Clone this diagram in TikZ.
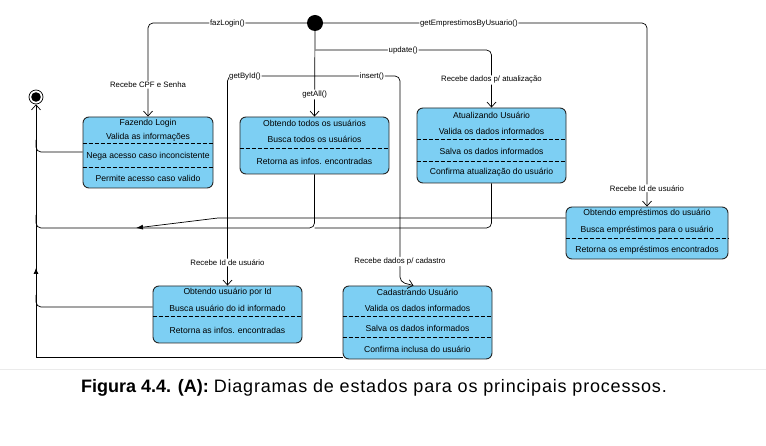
\documentclass[tikz,border=0pt]{standalone}
\usepackage{fontspec}
\setmainfont{Liberation Sans}
\usetikzlibrary{arrows.meta,calc}
\definecolor{stateblue}{RGB}{125,207,243}
\begin{document}
\begin{tikzpicture}[x=1pt,y=-1pt,
  state/.style={draw=black!85,rounded corners=6pt,fill=stateblue,line width=0.9pt,inner sep=0pt},
  row/.style={font=\fontsize{8.6}{10}\selectfont,inner sep=0pt},
  sep/.style={line width=0.7pt,dash pattern=on 4pt off 2pt},
  trans/.style={line width=0.7pt,rounded corners=5pt,-{Straight Barb[length=5pt,width=9pt]}},
  ret/.style={line width=0.7pt,rounded corners=5pt},
  lbl/.style={fill=white,font=\fontsize{7.8}{9}\selectfont,inner sep=1pt}]
\useasboundingbox (0,0) rectangle (766,446);
% pseudo states
\node[circle,fill=black,minimum size=16pt,inner sep=0pt] (init) at (315,23) {};
\node[circle,draw,line width=0.7pt,minimum size=14pt,inner sep=0pt] (final) at (36,97) {};
\fill (final.center) circle (4.8pt);
\coordinate (split) at (315,50);
\coordinate (fork) at (315,76);
% states
\node[state,minimum width=130pt,minimum height=71pt] (login) at (148,152.5) {};
\node[row] (login-t) at (148,123) {Fazendo Login};
\node[row] (login-1) at (148,137) {Valida as informações};
\node[row] (login-2) at (148,156) {Nega acesso caso inconcistente};
\node[row] (login-3) at (148,178.5) {Permite acesso caso valido};
\draw[sep] (login.west |- 0,143) -- (login.east |- 0,143);
\draw[sep] (login.west |- 0,167) -- (login.east |- 0,167);

\node[state,minimum width=149pt,minimum height=57pt] (todos) at (314.5,145.5) {};
\node[row] (todos-t) at (314.5,123) {Obtendo todos os usuários};
\node[row] (todos-1) at (314.5,139) {Busca todos os usuários};
\node[row] (todos-2) at (314.5,161.5) {Retorna as infos. encontradas};
\draw[sep] (todos.west |- 0,148) -- (todos.east |- 0,148);

\node[state,minimum width=149pt,minimum height=75pt] (atual) at (491.5,145.5) {};
\node[row] (atual-t) at (491.5,115) {Atualizando Usuário};
\node[row] (atual-1) at (491.5,131) {Valida os dados informados};
\node[row] (atual-2) at (491.5,151) {Salva os dados informados};
\node[row] (atual-3) at (491.5,172.5) {Confirma atualização do usuário};
\draw[sep] (atual.west |- 0,139.5) -- (atual.east |- 0,139.5);
\draw[sep] (atual.west |- 0,161) -- (atual.east |- 0,161);

\node[state,minimum width=162pt,minimum height=52pt] (empr) at (647,233) {};
\node[row] (empr-t) at (647,213.5) {Obtendo empréstimos do usuário};
\node[row] (empr-1) at (647,230) {Busca empréstimos para o usuário};
\node[row] (empr-2) at (647,250) {Retorna os empréstimos encontrados};
\draw[sep] (empr.west |- 0,238.5) -- (empr.east |- 0,238.5);

\node[state,minimum width=149pt,minimum height=57pt] (porid) at (227.5,314.5) {};
\node[row] (porid-t) at (227.5,292) {Obtendo usuário por Id};
\node[row] (porid-1) at (227.5,308) {Busca usuário do id informado};
\node[row] (porid-2) at (227.5,330) {Retorna as infos. encontradas};
\draw[sep] (porid.west |- 0,316.5) -- (porid.east |- 0,316.5);

\node[state,minimum width=149pt,minimum height=73pt] (cad) at (417.5,322.5) {};
\node[row] (cad-t) at (417.5,292) {Cadastrando Usuário};
\node[row] (cad-1) at (417.5,308) {Valida os dados informados};
\node[row] (cad-2) at (417.5,328) {Salva os dados informados};
\node[row] (cad-3) at (417.5,349) {Confirma inclusa do usuário};
\draw[sep] (cad.west |- 0,316.5) -- (cad.east |- 0,316.5);
\draw[sep] (cad.west |- 0,337) -- (cad.east |- 0,337);

% transitions from the start
\draw[trans] (init.west) -| node[lbl,pos=0.25]{fazLogin()} node[lbl,pos=0.83]{Recebe CPF e Senha} (login.north);
\draw[trans] (init.east) -| node[lbl,pos=0.225]{getEmprestimosByUsuario()} node[lbl,pos=0.95]{Recebe Id de usuário} (empr.north);
\draw[trans] (init.south) -- node[lbl,pos=0.74]{getAll()} (todos.north);
\draw[trans] (split) -| node[lbl,pos=0.25]{update()} node[lbl,pos=0.76]{Recebe dados p/ atualização} (atual.north);
\draw[trans] (fork) -| node[lbl,pos=0.4]{getById()} node[lbl,pos=0.945]{Recebe Id de usuário} (porid.north);
\draw[trans] (fork) -- node[lbl,pos=0.67]{insert()} (400,76) -- node[lbl,pos=0.9]{Recebe dados p/ cadastro} (400,282) -- ($(cad.north)+(-4,0)$);

% returns to the end
\draw[line width=0.7pt,-{Straight Barb[length=5pt,width=9pt]}] (cad.west |- 0,357.5) -| (final.south);
\draw[line width=0.7pt,-{Latex[length=6pt,width=5pt]}] (36,280) -- (36,268);
\draw[ret] (login.west |- 0,152) -| (36,140);
\draw[ret] (todos.south) |- (36,228) -- (36,215);
\draw[ret] (atual.south) |- (todos.south |- 0,228);
\draw[line width=0.7pt,-{Latex[length=7pt,width=5pt]}] (empr.west |- 0,218) -- (218,218) -- (136,228);
\draw[ret] (porid.west |- 0,307) -| (36,295);

% caption
\draw[black!8,line width=1pt] (0,370) -- (766,370);
\node (caption) at (374,388) {\fontsize{18}{21}\selectfont\textbf{Figura 4.4. (A):} \addfontfeature{LetterSpace=4.5}Diagramas de estados para os principais processos.};
\end{tikzpicture}
\end{document}
